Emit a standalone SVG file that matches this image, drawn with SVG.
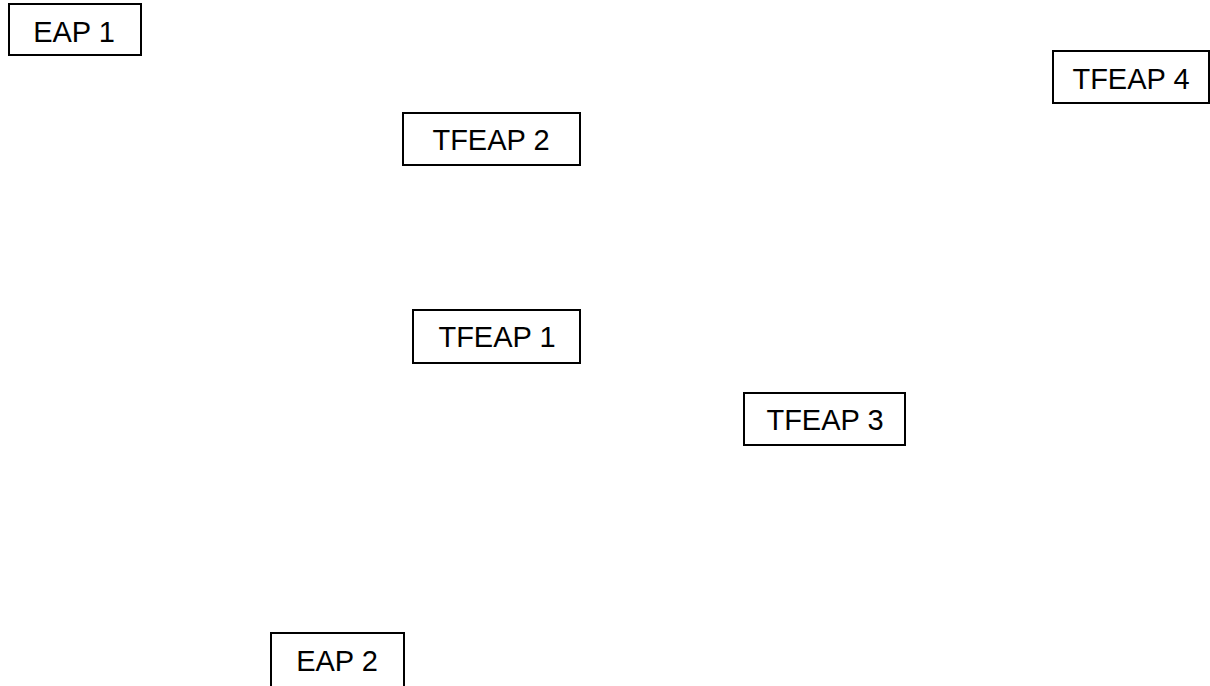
<svg xmlns="http://www.w3.org/2000/svg" width="1210" height="686" viewBox="0 0 1210 686">
<style>
.box{fill:#fff;stroke:#000;stroke-width:2}
.lbl{font-family:"Liberation Sans",Arial,sans-serif;font-size:29px;fill:#000;text-anchor:middle}
</style>
<rect width="1210" height="686" fill="#fff"/>
<g id="connectors"></g>
<g id="eap1"><rect class="box" x="9" y="4" width="132" height="51"/><text class="lbl" x="74" y="42">EAP 1</text></g>
<g id="tfeap4"><rect class="box" x="1053" y="51" width="156" height="52"/><text class="lbl" x="1131" y="89">TFEAP 4</text></g>
<g id="tfeap2"><rect class="box" x="403" y="113" width="177" height="52"/><text class="lbl" x="491" y="150">TFEAP 2</text></g>
<g id="tfeap1"><rect class="box" x="413" y="310" width="167" height="53"/><text class="lbl" x="497" y="347">TFEAP 1</text></g>
<g id="tfeap3"><rect class="box" x="744" y="393" width="161" height="52"/><text class="lbl" x="825" y="430">TFEAP 3</text></g>
<g id="eap2"><rect class="box" x="271" y="633" width="133" height="60"/><text class="lbl" x="337" y="671">EAP 2</text></g>
</svg>
